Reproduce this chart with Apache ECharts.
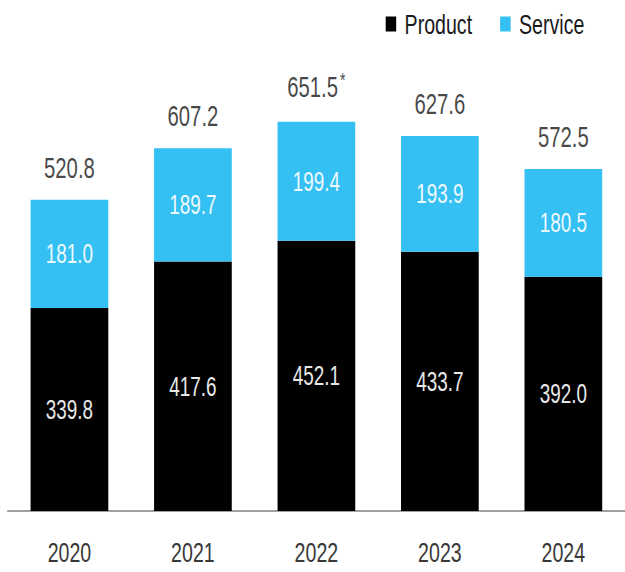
<!DOCTYPE html>
<html>
<head>
<meta charset="utf-8">
<script src="https://cdn.jsdelivr.net/npm/echarts@6/dist/echarts.min.js"></script>
<style>
  html, body { margin: 0; padding: 0; background: #fff; overflow: hidden; }
  #wrap { width: 625px; height: 572px; overflow: hidden; }
  /* narrow, condensed look: lay out wide, then squeeze horizontally */
  #chart { width: 893px; height: 572px; transform: scaleX(0.7); transform-origin: 0 0; }
</style>
</head>
<body>
<div id="wrap"><div id="chart"></div></div>
<script>
const years = ['2020', '2021', '2022', '2023', '2024'];
const product = [339.8, 417.6, 452.1, 433.7, 392.0];
const service = [181.0, 189.7, 199.4, 193.9, 180.5];
const totals = [520.8, 607.2, 651.5, 627.6, 572.5];
const totalNotes = ['', '', '*', '', ''];

const FONT = '"Liberation Sans", Arial, Helvetica, sans-serif';
const BLUE = '#35c0f3';

const chart = echarts.init(document.getElementById('chart'), null, { renderer: 'svg' });
chart.setOption({
  animation: false,
  textStyle: { fontFamily: FONT },
  legend: {
    left: 546,
    top: 5,
    itemWidth: 15,
    itemHeight: 15,
    itemGap: 40,
    icon: 'rect',
    data: ['Product', 'Service'],
    textStyle: { fontFamily: FONT, fontSize: 28, color: '#1a1a1a', padding: [0, 0, 0, 7] }
  },
  grid: { left: 11, top: 33, width: 893, height: 478, containLabel: false },
  xAxis: {
    type: 'category',
    data: years,
    axisLine: { show: true, lineStyle: { color: '#a0a0a0', width: 2 } },
    axisTick: { show: false },
    axisLabel: { fontFamily: FONT, fontSize: 28, color: '#383838', margin: 27 }
  },
  yAxis: {
    type: 'value',
    min: 0,
    max: 800,
    show: false,
    splitLine: { show: false }
  },
  series: [
    {
      name: 'Product',
      type: 'bar',
      stack: 'total',
      barWidth: 111,
      data: product,
      itemStyle: { color: '#000' },
      label: {
        show: true,
        position: 'inside',
        formatter: p => p.value.toFixed(1),
        fontFamily: FONT, fontSize: 27, color: '#e8e8e8'
      }
    },
    {
      name: 'Service',
      type: 'bar',
      stack: 'total',
      barWidth: 111,
      data: service,
      itemStyle: { color: BLUE },
      label: {
        show: true,
        position: 'inside',
        formatter: p => p.value.toFixed(1),
        fontFamily: FONT, fontSize: 27, color: '#eef9fe'
      }
    },
    {
      name: 'Total',
      type: 'scatter',
      data: totals,
      symbolSize: 0,
      silent: true,
      label: {
        show: true,
        position: 'top',
        distance: 18,
        formatter: p => {
          const note = totalNotes[p.dataIndex];
          return p.value.toFixed(1) + (note ? '{sup|' + note + '}' : '');
        },
        fontFamily: FONT, fontSize: 29, color: '#151515',
        rich: {
          sup: { fontFamily: FONT, fontSize: 20, color: '#151515', verticalAlign: 'top', padding: [0, 0, 14, 3] }
        }
      }
    }
  ]
});
</script>
</body>
</html>
